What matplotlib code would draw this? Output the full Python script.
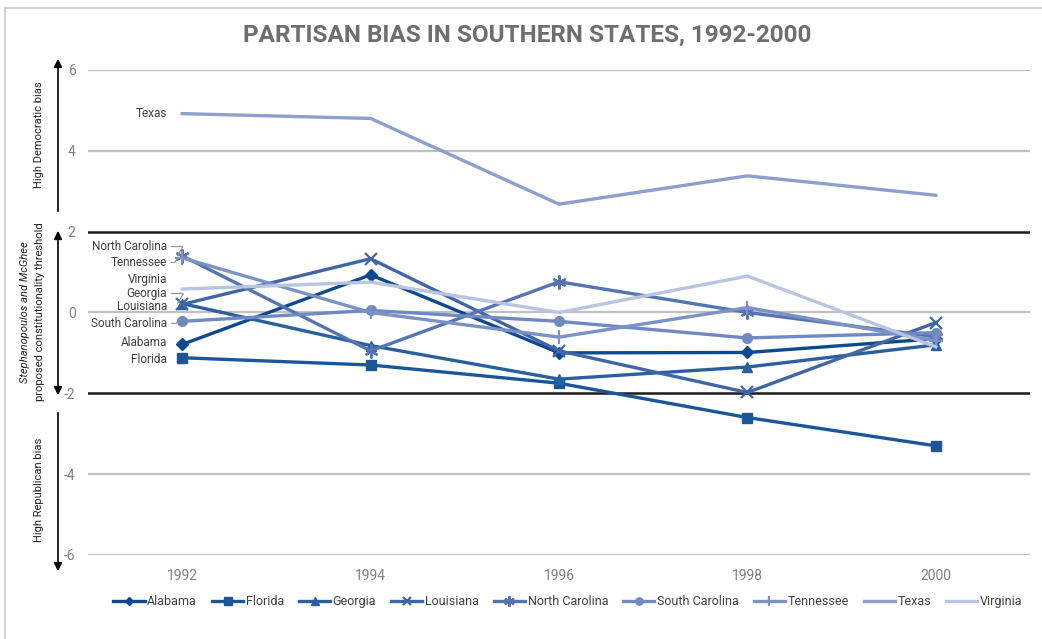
import matplotlib.pyplot as plt
from matplotlib.patches import Rectangle, FancyArrowPatch

plt.rcParams['font.family'] = ['Roboto', 'DejaVu Sans']
plt.rcParams['axes.unicode_minus'] = False

years = [1992, 1994, 1996, 1998, 2000]
states = ["Alabama", "Florida", "Georgia", "Louisiana", "North Carolina",
          "South Carolina", "Tennessee", "Texas", "Virginia"]

alabama = [-0.79, 0.93, -1.0, -0.99, -0.65]
florida = [-1.12, -1.30, -1.75, -2.60, -3.30]
georgia = [0.22, -0.82, -1.65, -1.35, -0.80]
louisiana = [0.20, 1.33, -0.95, -1.98, -0.25]
north_carolina = [1.40, -0.95, 0.76, 0.0, -0.60]
south_carolina = [-0.22, 0.05, -0.22, -0.63, -0.50]
tennessee = [1.35, 0.0, -0.61, 0.12, -0.70]
texas = [4.92, 4.80, 2.68, 3.38, 2.90]
virginia = [0.58, 0.75, 0.0, 0.90, -0.85]

series = [alabama, florida, georgia, louisiana, north_carolina,
          south_carolina, tennessee, texas, virginia]

colors = ["#0b4a8c", "#1b5698", "#2a5fa0", "#4166a8", "#5575b2",
          "#7189c2", "#7b92c6", "#8c9fce", "#b9c4e1"]
markers = ["D", "s", "^", "x", (6, 2, 0), "o", "+", None, None]
msizes = [6, 7, 7, 8, 10, 7, 10, 0, 0]

# label positions on the left of 1992 (y in data units)
label_y = [-0.74, -1.16, 0.47, 0.15, 1.63, -0.27, 1.24, 4.93, 0.82]
leader = [False, False, True, False, True, True, True, False, False]

fig = plt.figure(figsize=(10.42, 6.39), dpi=100)
ax = fig.add_axes([0.0845, 0.1315, 0.904, 0.759])

for v in [6, 4, 0, -4, -6]:
    ax.axhline(v, color="#c0c0c0", lw=1.6, zorder=1)
for v in [2, -2]:
    ax.axhline(v, color="#1a1a1a", lw=1.8, zorder=1)

for name, vals, c, m, ms in zip(states, series, colors, markers, msizes):
    ax.plot(years, vals, color=c, lw=2.4, marker=m, markersize=ms,
            markeredgewidth=1.6 if m in ["x", "+", (6, 2, 0)] else 1,
            markeredgecolor=c, label=name, zorder=3)

for name, vals, ly, ld in zip(states, series, label_y, leader):
    if ld:
        ax.annotate(name, xy=(1991.95, vals[0]), xytext=(1991.84, ly),
                    ha="right", va="center", fontsize=8.5, color="#404040",
                    arrowprops=dict(arrowstyle="-", color="#909090", lw=0.8,
                                    connectionstyle="angle,angleA=0,angleB=60,rad=0",
                                    shrinkA=1, shrinkB=0))
    else:
        ax.text(1991.84, ly, name, ha="right", va="center",
                fontsize=8.5, color="#404040")

ax.set_xlim(1991, 2001)
ax.set_ylim(-6, 6)
ax.set_xticks(years)
ax.set_xticklabels([str(y) for y in years])
ax.set_yticks([-6, -4, -2, 0, 2, 4, 6])
ax.tick_params(length=0, colors="#808080", labelsize=10, pad=10)
ax.tick_params(axis="y", pad=9)
for s in ax.spines.values():
    s.set_visible(False)

fig.suptitle("PARTISAN BIAS IN SOUTHERN STATES, 1992-2000", x=0.506, y=0.963,
             fontsize=17.5, fontweight="bold", color="#6d6e71")

# left side arrows and notes
def px(x, y):
    return (x / 1042, 1 - y / 639)

arr = dict(arrowstyle="-|>", color="black", lw=1.2, mutation_scale=12)
fig.add_artist(FancyArrowPatch(px(58, 214), px(58, 56), transform=fig.transFigure, **arr))
fig.add_artist(FancyArrowPatch(px(58, 228), px(58, 398), transform=fig.transFigure,
                               arrowstyle="<|-|>", color="black", lw=1.2, mutation_scale=12))
fig.add_artist(FancyArrowPatch(px(58, 410), px(58, 574), transform=fig.transFigure, **arr))

fig.text(*px(39, 135), "High Democratic bias", rotation=90, ha="center", va="center",
         fontsize=8, color="#222222")
fig.text(*px(39, 490), "High Republican bias", rotation=90, ha="center", va="center",
         fontsize=8, color="#222222")
fig.text(*px(25, 312), "Stephanopoulos and McGhee", rotation=90, ha="center", va="center",
         fontsize=8, color="#222222", style="italic")
fig.text(*px(40, 312), "proposed constitutionality threshold", rotation=90, ha="center",
         va="center", fontsize=8, color="#222222")

leg = fig.legend(loc="center", bbox_to_anchor=(0.545, 0.058), ncol=9, frameon=False,
                 fontsize=9, handlelength=2.5, handletextpad=0.2, columnspacing=1.2,
                 markerscale=0.75)
for t in leg.get_texts():
    t.set_color("#404040")

fig.add_artist(Rectangle((0.005, -0.02), 1.1, 1.008, transform=fig.transFigure,
                         fill=False, edgecolor="#c8c8c8", lw=1.2))

fig.savefig("out.png", dpi=100)
